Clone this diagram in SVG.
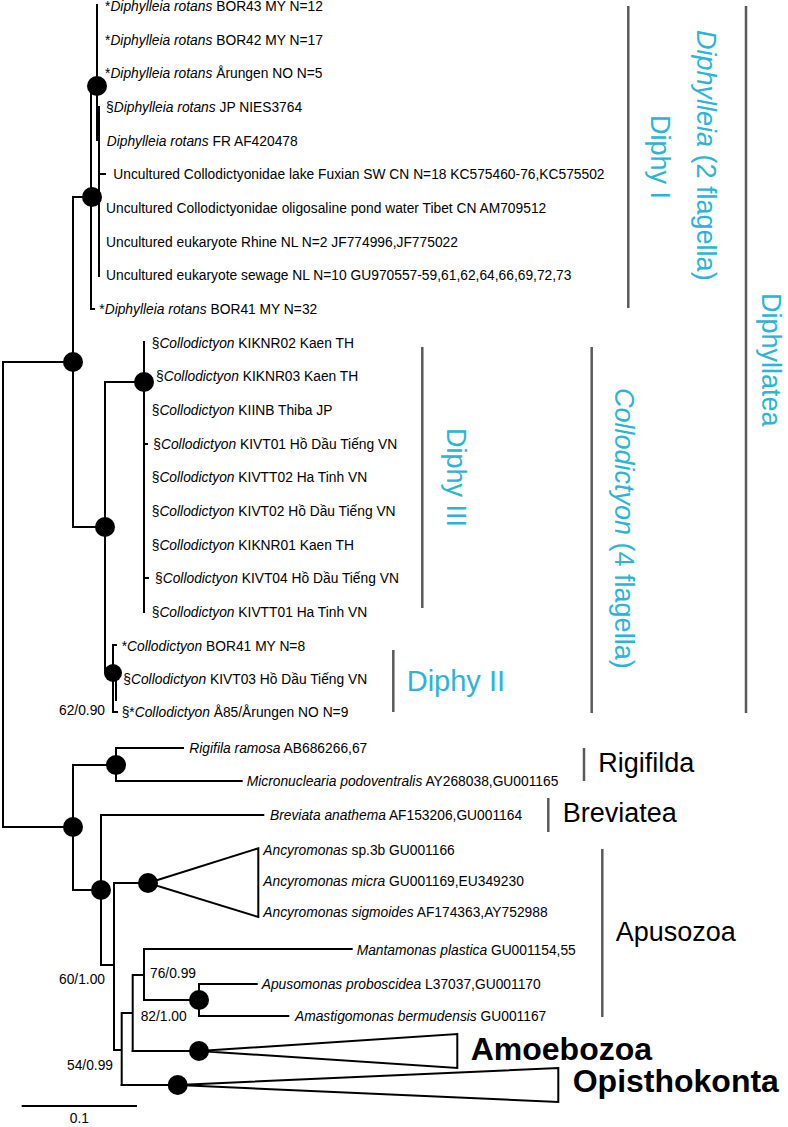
<svg xmlns="http://www.w3.org/2000/svg" width="788" height="1127" viewBox="0 0 788 1127">
<style>
.b{stroke:#000;stroke-width:2;fill:none;stroke-linecap:square}
.n{fill:#000}
.tri{fill:#fff;stroke:#000;stroke-width:2;stroke-linejoin:miter}
.t{font-family:"Liberation Sans",Arial,sans-serif;font-size:13.8px;fill:#000}
.i{font-style:italic}
.s{font-family:"Liberation Sans",Arial,sans-serif;font-size:13.8px;fill:#000}
.g{stroke:#5a5a5a;stroke-width:2.5}
.c{font-family:"Liberation Sans",Arial,sans-serif;font-size:27px;fill:#2ab4d6}
.k{font-family:"Liberation Sans",Arial,sans-serif;font-size:27px;fill:#000}
.bb{font-family:"Liberation Sans",Arial,sans-serif;font-size:32px;font-weight:bold;fill:#000}
</style>
<rect width="788" height="1127" fill="#fff"/>
<g id="connectors">
<path class="b" d="M3,362H73M3,362V827M3,827H73"/>
<path class="b" d="M73,197V527M73,197H91M73,527H105"/>
<path class="b" d="M91,86V309M91,309H94M91,86H97M97,5V140M99,107V276M99,174H105"/>
<path class="b" d="M105,382V673M105,382H144M144,342V612M144,444H147M144,578H148M105,673H113"/>
<path class="b" d="M113,645V712M113,712H117M116,673V700M113,645H116"/>
<path class="b" d="M73,765V890M73,765H116M116,748V781M116,748H183M116,781H241.7"/>
<path class="b" d="M73,890H101M101,815V965M101,815H263.3M101,965H114M114,883V1050M114,883H148"/>
<path class="b" d="M114,1050H121.7M121.7,1013V1085M121.7,1013H132.7M132.7,975V1051M132.7,975H144M144,949V1000M144,949H351.7M144,1000H199M199,984V1016M199,984H256.7M199,1016H288.3"/>
<path class="b" d="M132.7,1051H199M121.7,1085H177.7"/>
<path class="b" d="M22.7,1106H136"/>
</g>
<g id="collapsed">
<polygon class="tri" points="148,883 258.3,848.3 258.3,917"/>
<polygon class="tri" points="199,1051 457.3,1034 457.3,1068"/>
<polygon class="tri" points="177.7,1085 558.3,1068 558.3,1102"/>
</g>
<g id="nodes">
<circle id="n-diphylleia-sub" class="n" cx="97" cy="86" r="10"/>
<circle id="n-diphylleia" class="n" cx="92" cy="197" r="10"/>
<circle id="n-diphyllatea" class="n" cx="73" cy="362" r="10"/>
<circle id="n-diphy3" class="n" cx="144" cy="382" r="10"/>
<circle id="n-collodictyon" class="n" cx="105" cy="527" r="10"/>
<circle id="n-diphy2" class="n" cx="113" cy="673" r="9"/>
<circle id="n-rigifilda" class="n" cx="116" cy="765" r="10"/>
<circle id="n-outgroup" class="n" cx="73" cy="827" r="10"/>
<circle id="n-n890" class="n" cx="101" cy="890" r="10"/>
<circle id="n-ancyro" class="n" cx="148" cy="883" r="10"/>
<circle id="n-apuso" class="n" cx="199" cy="1000" r="10"/>
<circle id="n-amoebo" class="n" cx="199" cy="1051" r="10"/>
<circle id="n-opistho" class="n" cx="177.7" cy="1085" r="10"/>
</g>
<g id="leaves">
<g id="l1"><text class="t" x="105" y="11">*<tspan class="i">Diphylleia rotans</tspan> BOR43 MY N=12</text></g>
<g id="l2"><text class="t" x="105" y="44.7">*<tspan class="i">Diphylleia rotans</tspan> BOR42 MY N=17</text></g>
<g id="l3"><text class="t" x="105" y="78.3">*<tspan class="i">Diphylleia rotans</tspan> Årungen NO N=5</text></g>
<g id="l4"><text class="t" x="106" y="112">§<tspan class="i">Diphylleia rotans</tspan> JP NIES3764</text></g>
<g id="l5"><text class="t" x="106.7" y="145.7"><tspan class="i">Diphylleia rotans</tspan> FR AF420478</text></g>
<g id="l6"><text class="t" x="113.3" y="179.3">Uncultured Collodictyonidae lake Fuxian SW CN N=18 KC575460-76,KC575502</text></g>
<g id="l7"><text class="t" x="106" y="213">Uncultured Collodictyonidae oligosaline pond water Tibet CN AM709512</text></g>
<g id="l8"><text class="t" x="106" y="246.7">Uncultured eukaryote Rhine NL N=2 JF774996,JF775022</text></g>
<g id="l9"><text class="t" x="106" y="280.3">Uncultured eukaryote sewage NL N=10 GU970557-59,61,62,64,66,69,72,73</text></g>
<g id="l10"><text class="t" x="99.3" y="314">*<tspan class="i">Diphylleia rotans</tspan> BOR41 MY N=32</text></g>
<g id="l11"><text class="t" x="151.7" y="347.7">§<tspan class="i">Collodictyon</tspan> KIKNR02 Kaen TH</text></g>
<g id="l12"><text class="t" x="156" y="381.3">§<tspan class="i">Collodictyon</tspan> KIKNR03 Kaen TH</text></g>
<g id="l13"><text class="t" x="151.7" y="415">§<tspan class="i">Collodictyon</tspan> KIINB Thiba JP</text></g>
<g id="l14"><text class="t" x="153.3" y="448.7">§<tspan class="i">Collodictyon</tspan> KIVT01 Hồ Dầu Tiếng VN</text></g>
<g id="l15"><text class="t" x="151.7" y="482.3">§<tspan class="i">Collodictyon</tspan> KIVTT02 Ha Tinh VN</text></g>
<g id="l16"><text class="t" x="151.7" y="516">§<tspan class="i">Collodictyon</tspan> KIVT02 Hồ Dầu Tiếng VN</text></g>
<g id="l17"><text class="t" x="151.7" y="549.7">§<tspan class="i">Collodictyon</tspan> KIKNR01 Kaen TH</text></g>
<g id="l18"><text class="t" x="155" y="583.3">§<tspan class="i">Collodictyon</tspan> KIVT04 Hồ Dầu Tiếng VN</text></g>
<g id="l19"><text class="t" x="151.7" y="617">§<tspan class="i">Collodictyon</tspan> KIVTT01 Ha Tinh VN</text></g>
<g id="l20"><text class="t" x="121.7" y="650.7">*<tspan class="i">Collodictyon</tspan> BOR41 MY N=8</text></g>
<g id="l21"><text class="t" x="123.3" y="684.3">§<tspan class="i">Collodictyon</tspan> KIVT03 Hồ Dầu Tiếng VN</text></g>
<g id="l22"><text class="t" x="121.7" y="717">§*<tspan class="i">Collodictyon</tspan> Å85/Årungen NO N=9</text></g>
<g id="l23"><text class="t" x="189.3" y="753"><tspan class="i">Rigifila ramosa</tspan> AB686266,67</text></g>
<g id="l24"><text class="t" x="246.7" y="786"><tspan class="i">Micronuclearia podoventralis</tspan> AY268038,GU001165</text></g>
<g id="l25"><text class="t" x="270" y="820"><tspan class="i">Breviata anathema</tspan> AF153206,GU001164</text></g>
<g id="l26"><text class="t" x="263.3" y="855"><tspan class="i">Ancyromonas</tspan> sp.3b GU001166</text></g>
<g id="l27"><text class="t" x="263.3" y="886"><tspan class="i">Ancyromonas micra</tspan> GU001169,EU349230</text></g>
<g id="l28"><text class="t" x="263.3" y="917"><tspan class="i">Ancyromonas sigmoides</tspan> AF174363,AY752988</text></g>
<g id="l29"><text class="t" x="356.7" y="955"><tspan class="i">Mantamonas plastica</tspan> GU001154,55</text></g>
<g id="l30"><text class="t" x="261.7" y="989"><tspan class="i">Apusomonas proboscidea</tspan> L37037,GU001170</text></g>
<g id="l31"><text class="t" x="295" y="1021"><tspan class="i">Amastigomonas bermudensis</tspan> GU001167</text></g>
<g id="l32"><text class="bb" x="470.7" y="1060">Amoebozoa</text></g>
<g id="l33"><text class="bb" x="572.7" y="1092">Opisthokonta</text></g>
</g>
<g id="support">
<text class="s" x="105" y="715" text-anchor="end">62/0.90</text>
<text class="s" x="105" y="984" text-anchor="end">60/1.00</text>
<text class="s" x="150" y="978">76/0.99</text>
<text class="s" x="140.7" y="1021">82/1.00</text>
<text class="s" x="113" y="1070" text-anchor="end">54/0.99</text>
<text class="s" x="79.3" y="1123" text-anchor="middle">0.1</text>
</g>
<g id="clade-labels">
<line class="g" x1="628.3" y1="6" x2="628.3" y2="308"/>
<text class="c" transform="translate(650.5,115) rotate(90)">Diphy I</text>
<text class="c" transform="translate(697,30) rotate(90)"><tspan class="i">Diphylleia</tspan> (2 flagella)</text>
<line class="g" x1="746" y1="6" x2="746" y2="713"/>
<text class="c" transform="translate(762,293) rotate(90)">Diphyllatea</text>
<line class="g" x1="422.3" y1="347" x2="422.3" y2="608"/>
<text class="c" transform="translate(447,428) rotate(90)">Diphy III</text>
<line class="g" x1="591.7" y1="347" x2="591.7" y2="713"/>
<text class="c" transform="translate(615,388) rotate(90)"><tspan class="i">Collodictyon</tspan> (4 flagella)</text>
<line class="g" x1="393.3" y1="650" x2="393.3" y2="712"/>
<text class="c" x="406.7" y="691" style="font-size:29px">Diphy II</text>
<line class="g" x1="584" y1="748" x2="584" y2="781"/>
<text class="k" x="598.3" y="772">Rigifilda</text>
<line class="g" x1="548.3" y1="798" x2="548.3" y2="832"/>
<text class="k" x="562.7" y="822">Breviatea</text>
<line class="g" x1="602.3" y1="849" x2="602.3" y2="1017"/>
<text class="k" x="615.7" y="941">Apusozoa</text>
</g>
</svg>
